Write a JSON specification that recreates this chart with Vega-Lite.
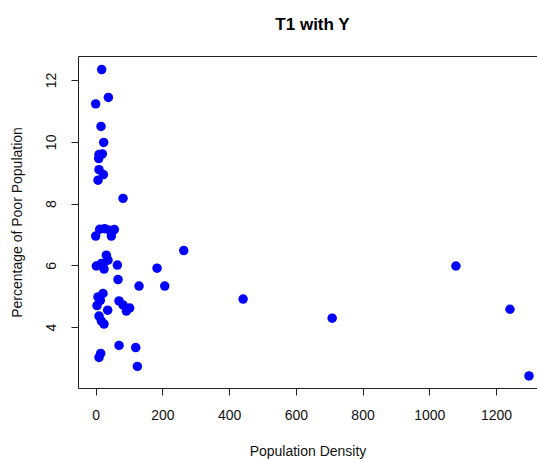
{
  "$schema": "https://vega.github.io/schema/vega-lite/v6.json",
  "autosize": "none",
  "width": 459,
  "height": 332,
  "padding": {"left": 78, "top": 56, "right": 0, "bottom": 71},
  "background": "white",
  "config": {
    "font": "Liberation Sans",
    "view": {"stroke": "#222", "strokeWidth": 1},
    "axis": {"grid": false, "domain": false, "tickColor": "#222", "tickSize": 7, "labelColor": "#111", "titleColor": "#111", "labelFontSize": 14, "titleFontSize": 14, "titleFontWeight": "normal"}
  },
  "title": {"text": "T1 with Y", "fontSize": 17, "fontWeight": "bold", "color": "#000", "offset": 22, "dx": 5},
  "data": {"values": [
    {"density": 18, "poor": 12.34},
    {"density": 38, "poor": 11.44},
    {"density": 0, "poor": 11.23},
    {"density": 16, "poor": 10.5},
    {"density": 24, "poor": 9.98},
    {"density": 10, "poor": 9.59},
    {"density": 20, "poor": 9.61},
    {"density": 9, "poor": 9.46},
    {"density": 10, "poor": 9.1},
    {"density": 23, "poor": 8.94},
    {"density": 7, "poor": 8.76},
    {"density": 82, "poor": 8.17},
    {"density": 0, "poor": 6.95},
    {"density": 12, "poor": 7.17},
    {"density": 27, "poor": 7.19},
    {"density": 42, "poor": 7.14},
    {"density": 56, "poor": 7.16},
    {"density": 47, "poor": 6.95},
    {"density": 264, "poor": 6.48},
    {"density": 32, "poor": 6.33},
    {"density": 2, "poor": 5.98},
    {"density": 17, "poor": 6.06},
    {"density": 25, "poor": 5.88},
    {"density": 37, "poor": 6.17},
    {"density": 65, "poor": 6.01},
    {"density": 22, "poor": 6.01},
    {"density": 184, "poor": 5.91},
    {"density": 67, "poor": 5.54},
    {"density": 130, "poor": 5.33},
    {"density": 207, "poor": 5.33},
    {"density": 7, "poor": 4.98},
    {"density": 22, "poor": 5.09},
    {"density": 4, "poor": 4.7},
    {"density": 14, "poor": 4.87},
    {"density": 36, "poor": 4.55},
    {"density": 70, "poor": 4.85},
    {"density": 82, "poor": 4.72},
    {"density": 102, "poor": 4.62},
    {"density": 92, "poor": 4.52},
    {"density": 10, "poor": 4.36},
    {"density": 17, "poor": 4.2},
    {"density": 25, "poor": 4.1},
    {"density": 70, "poor": 3.41},
    {"density": 120, "poor": 3.34},
    {"density": 15, "poor": 3.15},
    {"density": 10, "poor": 3.02},
    {"density": 125, "poor": 2.73},
    {"density": 442, "poor": 4.91},
    {"density": 709, "poor": 4.29},
    {"density": 1080, "poor": 5.98},
    {"density": 1242, "poor": 4.58},
    {"density": 1299, "poor": 2.42}
  ]},
  "mark": {"type": "circle", "color": "#0000FF", "opacity": 1, "size": 90},
  "encoding": {
    "x": {"field": "density", "type": "quantitative", "title": "Population Density",
      "scale": {"domain": [-53, 1323], "nice": false, "zero": false},
      "axis": {"values": [0, 200, 400, 600, 800, 1000, 1200], "format": "d", "labelPadding": 13, "titlePadding": 22}},
    "y": {"field": "poor", "type": "quantitative", "title": "Percentage of Poor Population",
      "scale": {"domain": [2.03, 12.78], "nice": false, "zero": false},
      "axis": {"values": [4, 6, 8, 10, 12], "labelAngle": -90, "labelAlign": "center", "labelBaseline": "bottom", "labelPadding": 13, "titlePadding": 20}}
  }
}
